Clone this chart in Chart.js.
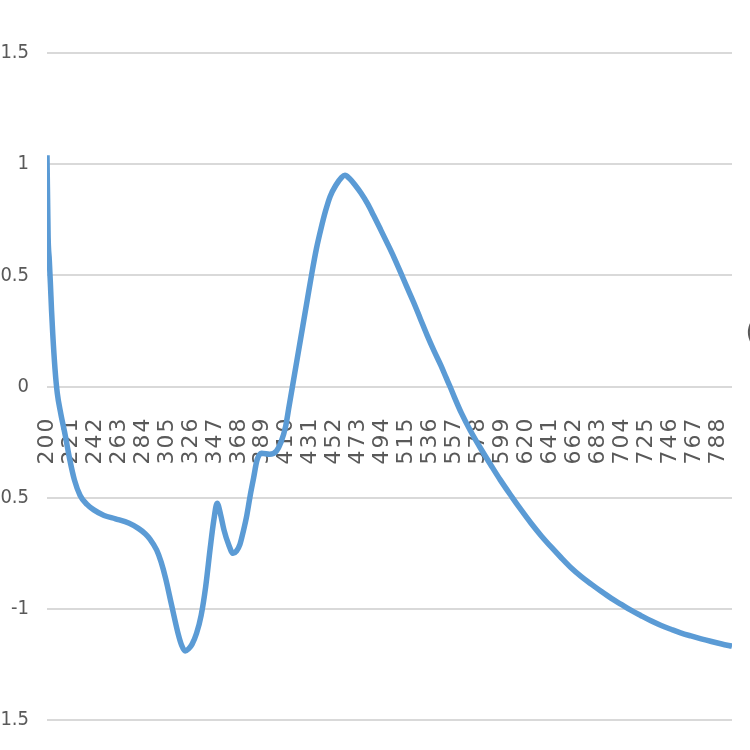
<!DOCTYPE html>
<html>
<head>
<meta charset="utf-8">
<title>CD spectrum</title>
<script src="https://cdn.jsdelivr.net/npm/chart.js@4.4.1/dist/chart.umd.min.js"></script>
<style>
  html, body { margin: 0; padding: 0; background: #ffffff; }
  canvas { display: block; }
</style>
</head>
<body>
<canvas id="chart" width="750" height="750"></canvas>
<script>
// values (wavelength -> signal)
const wavelengths = [
  200, 201, 202, 203, 204, 205, 207, 209, 212, 216, 220, 224, 229, 235, 241, 250, 260, 272, 280, 286,
  290, 296, 300, 304, 309, 315, 318, 321, 324, 327, 331, 335, 339, 343, 346, 349, 352, 355, 359, 363,
  366, 369, 372, 375, 378, 381, 384, 388, 395, 401, 405, 409, 412, 415, 420, 424, 428, 432, 436, 440,
  444, 448, 453, 458, 461, 465, 470, 475, 481, 486, 492, 498, 504, 510, 515, 521, 527, 533, 539, 545,
  550, 553, 557, 563, 571, 580, 589, 597, 607, 615, 624, 633, 642, 650, 659, 668, 677, 685, 694, 703,
  711, 720, 729, 738, 747, 755, 764, 773, 782, 791, 800
];
const cdValues = [
  1.04, 0.67, 0.57, 0.46, 0.34, 0.24, 0.08, -0.03, -0.12, -0.22, -0.33, -0.42, -0.49, -0.53, -0.555, -0.58, -0.595, -0.615, -0.638, -0.662,
  -0.685, -0.735, -0.79, -0.865, -0.98, -1.115, -1.165, -1.19, -1.18, -1.16, -1.11, -1.03, -0.90, -0.725, -0.605, -0.525, -0.575, -0.645, -0.71, -0.75,
  -0.74, -0.71, -0.65, -0.58, -0.49, -0.41, -0.33, -0.30, -0.305, -0.29, -0.25, -0.18, -0.09, 0, 0.15, 0.27, 0.39, 0.51, 0.62, 0.71,
  0.79, 0.855, 0.905, 0.94, 0.95, 0.935, 0.905, 0.87, 0.82, 0.77, 0.708, 0.645, 0.58, 0.51, 0.45, 0.38, 0.305, 0.23, 0.16, 0.095,
  0.035, 0, -0.05, -0.12, -0.20, -0.28, -0.355, -0.42, -0.495, -0.553, -0.615, -0.672, -0.724, -0.768, -0.815, -0.855, -0.89, -0.92, -0.952, -0.98,
  -1.005, -1.03, -1.054, -1.075, -1.093, -1.108, -1.122, -1.135, -1.147, -1.158, -1.168
];
const xTickLabels = [
  200, 221, 242, 263, 284, 305, 326, 347, 368, 389, 410, 431, 452, 473, 494,
  515, 536, 557, 578, 599, 620, 641, 662, 683, 704, 725, 746, 767, 788
];
const yTickLabels = [-1.5, -1, -0.5, 0, 0.5, 1, 1.5];

const textGray = '#595959';

// x labels are drawn before the line, so spacing is on for them only
const labelSpacing = {
  id: 'labelSpacing',
  beforeDraw(chart) {
    chart.ctx.letterSpacing = '2px';
  },
  beforeDatasetsDraw(chart) {
    chart.ctx.letterSpacing = '0px';
  },
  afterDraw(chart) {
    // cut-off text at the right edge of the reference
    const ctx = chart.ctx;
    ctx.save();
    ctx.font = '24px "Liberation Sans Narrow", "DejaVu Sans Condensed", sans-serif';
    ctx.fillStyle = textGray;
    ctx.textAlign = 'left';
    ctx.textBaseline = 'middle';
    ctx.fillText('(', 746, 334);
    ctx.restore();
  }
};

new Chart(document.getElementById('chart'), {
  type: 'line',
  data: {
    datasets: [{
      data: wavelengths.map((w, i) => ({ x: w, y: cdValues[i] })),
      borderColor: '#5B9BD5',
      borderWidth: 5.5,
      pointRadius: 0,
      fill: false,
      cubicInterpolationMode: 'monotone'
    }]
  },
  options: {
    responsive: false,
    devicePixelRatio: 1,
    animation: false,
    layout: { padding: { left: 0, top: 53, right: 18, bottom: 27 } },
    plugins: {
      legend: { display: false },
      tooltip: { enabled: false }
    },
    scales: {
      x: {
        type: 'linear',
        min: 200,
        max: 800,
        position: { y: 0 },
        grid: { display: false },
        border: { display: false },
        afterBuildTicks: scale => {
          scale.ticks = xTickLabels.map(v => ({ value: v }));
        },
        afterFit: scale => {
          scale.paddingLeft = 0;
          scale.paddingRight = 0;
        },
        ticks: {
          autoSkip: false,
          minRotation: 90,
          maxRotation: 90,
          padding: 22,
          color: textGray,
          font: { family: '"DejaVu Sans", Verdana, sans-serif', size: 22 },
          callback: v => String(v)
        }
      },
      y: {
        min: -1.5,
        max: 1.5,
        position: 'left',
        afterFit: scale => { scale.width = 47; },
        afterBuildTicks: scale => {
          scale.ticks = yTickLabels.map(v => ({ value: v }));
        },
        grid: { color: '#d9d9d9', lineWidth: 2, drawTicks: false },
        border: { display: false },
        ticks: {
          z: 1,
          padding: 18,
          color: textGray,
          font: { family: '"Liberation Sans Narrow", "DejaVu Sans Condensed", sans-serif', size: 20 },
          callback: v => String(v)
        }
      }
    }
  },
  plugins: [labelSpacing]
});
</script>
</body>
</html>
